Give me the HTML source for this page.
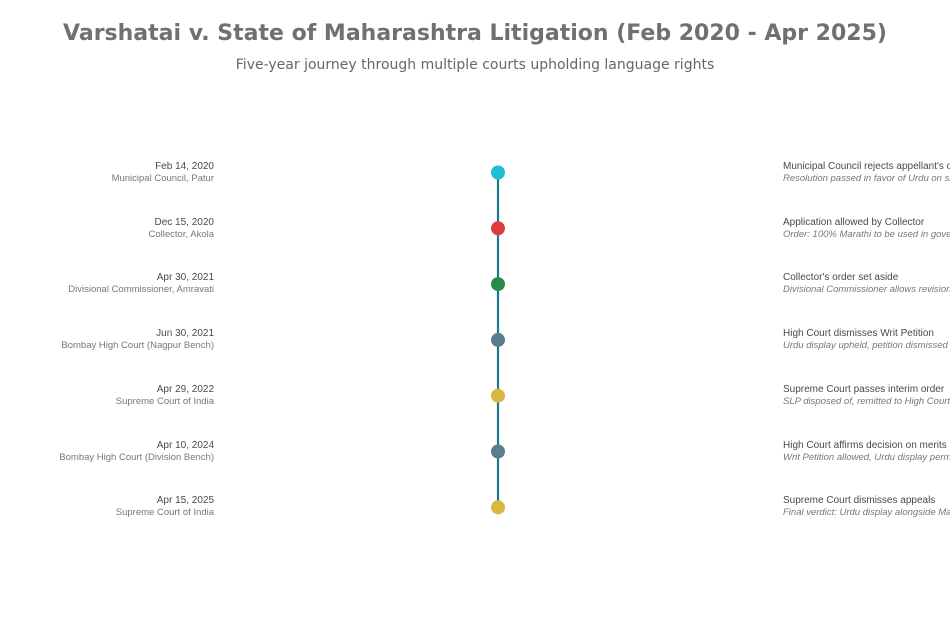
<!DOCTYPE html>
<html><head><meta charset="utf-8"><style>
html,body{margin:0;padding:0;width:950px;height:634px;overflow:hidden;background:#fff;}
#w{position:relative;width:950px;height:634px;overflow:hidden;}
.t{position:absolute;left:0;width:950px;text-align:center;font-family:"DejaVu Sans",sans-serif;}
.l{position:absolute;right:736px;text-align:right;font-family:"Liberation Sans",sans-serif;white-space:nowrap;}
.r{position:absolute;left:783px;width:167px;overflow:hidden;font-family:"Liberation Sans",sans-serif;white-space:nowrap;}
.a{font-size:10px;color:#4a4a4a;line-height:12px;}
.b{font-size:9.5px;color:#777;line-height:12px;}
.i{font-style:italic;}
</style></head><body><div id="w">
<div class="t" style="top:21px;font-size:22px;font-weight:bold;color:#707070;">Varshatai v. State of Maharashtra Litigation (Feb 2020 - Apr 2025)</div>
<div class="t" style="top:57px;font-size:14px;color:#666;">Five-year journey through multiple courts upholding language rights</div>
<svg width="950" height="634" style="position:absolute;left:0;top:0">
<line x1="498" y1="172" x2="498" y2="507" stroke="#1f7a8c" stroke-width="2.2"/>
<circle cx="498" cy="172.5" r="7" fill="#1fbcd6"/>
<circle cx="498" cy="228.3" r="7" fill="#de3c3c"/>
<circle cx="498" cy="284.1" r="7" fill="#2a8a4c"/>
<circle cx="498" cy="339.9" r="7" fill="#5a7e8e"/>
<circle cx="498" cy="395.7" r="7" fill="#d8b83e"/>
<circle cx="498" cy="451.5" r="7" fill="#5a7e8e"/>
<circle cx="498" cy="507.3" r="7" fill="#d8b83e"/>
</svg>
<div class="l" style="top:161px"><div class="a">Feb 14, 2020</div><div class="b">Municipal Council, Patur</div></div>
<div class="l" style="top:217px"><div class="a">Dec 15, 2020</div><div class="b">Collector, Akola</div></div>
<div class="l" style="top:272px"><div class="a">Apr 30, 2021</div><div class="b">Divisional Commissioner, Amravati</div></div>
<div class="l" style="top:328px"><div class="a">Jun 30, 2021</div><div class="b">Bombay High Court (Nagpur Bench)</div></div>
<div class="l" style="top:384px"><div class="a">Apr 29, 2022</div><div class="b">Supreme Court of India</div></div>
<div class="l" style="top:440px"><div class="a">Apr 10, 2024</div><div class="b">Bombay High Court (Division Bench)</div></div>
<div class="l" style="top:495px"><div class="a">Apr 15, 2025</div><div class="b">Supreme Court of India</div></div>
<div class="r" style="top:161px"><div class="a">Municipal Council rejects appellant's objection</div><div class="b i">Resolution passed in favor of Urdu on signboard</div></div>
<div class="r" style="top:217px"><div class="a">Application allowed by Collector</div><div class="b i">Order: 100% Marathi to be used in government work</div></div>
<div class="r" style="top:272px"><div class="a">Collector's order set aside</div><div class="b i">Divisional Commissioner allows revision</div></div>
<div class="r" style="top:328px"><div class="a">High Court dismisses Writ Petition</div><div class="b i">Urdu display upheld, petition dismissed</div></div>
<div class="r" style="top:384px"><div class="a">Supreme Court passes interim order</div><div class="b i">SLP disposed of, remitted to High Court</div></div>
<div class="r" style="top:440px"><div class="a">High Court affirms decision on merits</div><div class="b i">Writ Petition allowed, Urdu display permitted</div></div>
<div class="r" style="top:495px"><div class="a">Supreme Court dismisses appeals</div><div class="b i">Final verdict: Urdu display alongside Marathi</div></div>
</div></body></html>
